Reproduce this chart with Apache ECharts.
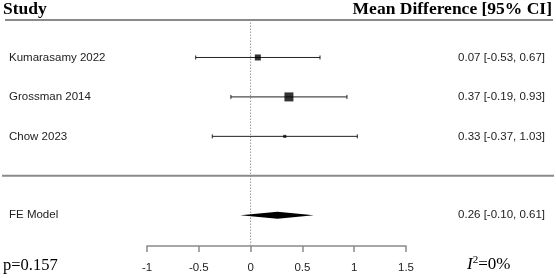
<!DOCTYPE html>
<html>
<head>
<meta charset="utf-8">
<script src="https://cdn.jsdelivr.net/npm/echarts@6/dist/echarts.min.js"></script>
<style>html,body{margin:0;padding:0;background:#fff}#c{width:556px;height:278px}</style>
</head>
<body>
<div id="c"></div>
<script>
const studies = ['Kumarasamy 2022', 'Grossman 2014', 'Chow 2023'];
const estimates = [0.07, 0.37, 0.33];
const lower = [-0.53, -0.19, -0.37];
const upper = [0.67, 0.93, 1.03];
const boxSizes = [6, 9, 3];
const rows = [3, 2, 1];
const modelLabel = 'FE Model';
const modelEst = 0.26;
const modelLower = -0.10;
const modelUpper = 0.61;
const modelRow = -1;
const separatorRow = 0;
const xTicks = [-1, -0.5, 0, 0.5, 1, 1.5];
const yMin = -1.78, yMax = 3.95;
const pText = 'p=0.157';
const headerLeft = 'Study';
const headerRight = 'Mean Difference [95% CI]';

const fmt = (e, l, u) => e.toFixed(2) + ' [' + l.toFixed(2) + ', ' + u.toFixed(2) + ']';
const sans = 'Liberation Sans, Arial, sans-serif';
const serif = 'Liberation Serif, Times New Roman, serif';

const chart = echarts.init(document.getElementById('c'), null, {renderer: 'canvas'});

const ciData = studies.map((s, i) => [estimates[i], rows[i], lower[i], upper[i], i]);

chart.setOption({
  animation: false,
  grid: {left: 147, right: 150, top: 20, bottom: 32},
  xAxis: {
    type: 'value', min: xTicks[0], max: xTicks[xTicks.length - 1], interval: 0.5,
    axisLine: {show: true, onZero: false, lineStyle: {color: '#8a8a8a', width: 1.5}},
    axisTick: {show: true, inside: false, length: 6, lineStyle: {color: '#8a8a8a', width: 1.5}},
    axisLabel: {fontFamily: sans, fontSize: 11.5, color: '#222', margin: 16,
      formatter: v => String(v)},
    splitLine: {show: false}
  },
  yAxis: {type: 'value', min: yMin, max: yMax, show: false, splitLine: {show: false}},
  series: [
    {
      type: 'line', data: [[0, yMin], [0, yMax]], symbol: 'none', silent: true,
      lineStyle: {color: '#999', width: 1, type: [1.5, 1.5]}, z: 1
    },
    {
      type: 'custom', z: 2, silent: true,
      data: [[0, separatorRow], [0, yMax]],
      renderItem: (params, api) => {
        const y = api.coord([0, api.value(1)])[1];
        const idx = params.dataIndex;
        return {type: 'line', shape: {x1: idx === 0 ? 2 : 5, y1: y, x2: idx === 0 ? 554 : 553, y2: y},
          style: {stroke: '#8a8a8a', lineWidth: 2}};
      }
    },
    {
      type: 'custom', z: 3, silent: true,
      data: ciData,
      renderItem: (params, api) => {
        const i = api.value(4);
        const p1 = api.coord([api.value(2), api.value(1)]);
        const p2 = api.coord([api.value(3), api.value(1)]);
        const y = p1[1];
        return {type: 'group', children: [
          {type: 'line', shape: {x1: p1[0], y1: y, x2: p2[0], y2: y}, style: {stroke: '#222', lineWidth: 1}},
          {type: 'line', shape: {x1: p1[0], y1: y - 2, x2: p1[0], y2: y + 2}, style: {stroke: '#222', lineWidth: 1}},
          {type: 'line', shape: {x1: p2[0], y1: y - 2, x2: p2[0], y2: y + 2}, style: {stroke: '#222', lineWidth: 1}},
          {type: 'text', style: {text: studies[i], x: 9, y: y, textVerticalAlign: 'middle', textAlign: 'left',
            font: '11.5px ' + sans, fill: '#222'}},
          {type: 'text', style: {text: fmt(estimates[i], lower[i], upper[i]), x: 545, y: y,
            textVerticalAlign: 'middle', textAlign: 'right', font: '11.5px ' + sans, fill: '#222'}}
        ]};
      }
    },
    {
      type: 'scatter', z: 4, silent: true, symbol: 'rect',
      data: estimates.map((e, i) => [e, rows[i], boxSizes[i]]),
      symbolSize: v => v[2],
      itemStyle: {color: '#000'}
    },
    {
      type: 'custom', z: 4, silent: true,
      data: [[modelEst, modelRow, modelLower, modelUpper]],
      renderItem: (params, api) => {
        const c = api.coord([api.value(0), api.value(1)]);
        const l = api.coord([api.value(2), api.value(1)]);
        const r = api.coord([api.value(3), api.value(1)]);
        const h = 3.5;
        return {type: 'group', children: [
          {type: 'polygon', shape: {points: [[l[0], c[1]], [c[0], c[1] - h], [r[0], c[1]], [c[0], c[1] + h]]},
            style: {fill: '#000'}},
          {type: 'text', style: {text: modelLabel, x: 9, y: c[1], textVerticalAlign: 'middle', textAlign: 'left',
            font: '11.5px ' + sans, fill: '#222'}},
          {type: 'text', style: {text: fmt(modelEst, modelLower, modelUpper), x: 545, y: c[1],
            textVerticalAlign: 'middle', textAlign: 'right', font: '11.5px ' + sans, fill: '#222'}}
        ]};
      }
    }
  ],
  graphic: [
    {type: 'text', left: 3, top: 0, style: {text: headerLeft, font: 'bold 17.5px ' + serif, fill: '#000'}},
    {type: 'text', right: 4, top: 0, style: {text: headerRight, font: 'bold 17.5px ' + serif, fill: '#000'}},
    {type: 'text', left: 3, top: 257, style: {text: pText, font: '16.5px ' + serif, fill: '#000'}},
    {type: 'text', left: 467, top: 255, style: {
      rich: {i: {fontFamily: serif, fontStyle: 'italic', fontSize: 17, fill: '#000'},
             s: {fontFamily: serif, fontSize: 11, verticalAlign: 'top', padding: [0, 0, 8, 0]},
             t: {fontFamily: serif, fontSize: 17}},
      text: '{i|I}{s|2}{t|=0%}'
    }}
  ]
});
</script>
</body>
</html>
